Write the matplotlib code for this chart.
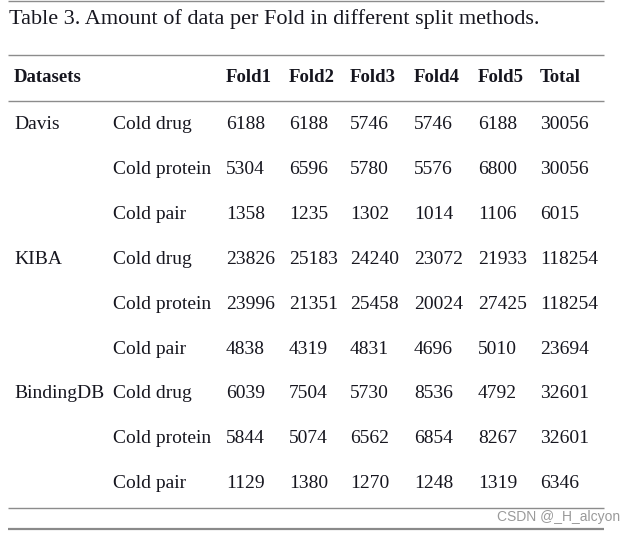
import matplotlib
matplotlib.use("Agg")
import matplotlib.pyplot as plt

# ── Table content ─────────────────────────────────────────────────────────────
title = "Table 3. Amount of data per Fold in different split methods."
header = ["Datasets", "", "Fold1", "Fold2", "Fold3", "Fold4", "Fold5", "Total"]
datasets = ["Davis", "KIBA", "BindingDB"]
splits = ["Cold drug", "Cold protein", "Cold pair"]

davis = [[6188, 6188, 5746, 5746, 6188, 30056],
         [5304, 6596, 5780, 5576, 6800, 30056],
         [1358, 1235, 1302, 1014, 1106, 6015]]
kiba = [[23826, 25183, 24240, 23072, 21933, 118254],
        [23996, 21351, 25458, 20024, 27425, 118254],
        [4838, 4319, 4831, 4696, 5010, 23694]]
bindingdb = [[6039, 7504, 5730, 8536, 4792, 32601],
             [5844, 5074, 6562, 6854, 8267, 32601],
             [1129, 1380, 1270, 1248, 1319, 6346]]
values = [davis, kiba, bindingdb]

# ── Layout (pixel units, origin top-left) ─────────────────────────────────────
W, H = 635, 533
col_x = [14, 113, 226, 289, 350, 414, 478, 540]
header_y = 78
row0_y = 124.5
row_step = 44.9
FONT = "Liberation Serif"
FS = 14
TXT = "#16161f"

fig = plt.figure(figsize=(W / 100, H / 100), dpi=100)
ax = fig.add_axes([0, 0, 1, 1])
ax.set_xlim(0, W)
ax.set_ylim(H, 0)
ax.axis("off")

ax.text(9, 19.5, title, fontsize=16, family=FONT, color=TXT, va="center", ha="left")

for x, h in zip(col_x, header):
    ax.text(x, header_y, h, fontsize=13.5, family=FONT, fontweight="bold",
            color=TXT, va="center", ha="left")

r = 0
for name, block in zip(datasets, values):
    for i, (split, row) in enumerate(zip(splits, block)):
        y = row0_y + r * row_step
        if i == 0:
            ax.text(col_x[0], y, name, fontsize=FS, family=FONT, color=TXT,
                    va="center", ha="left")
        ax.text(col_x[1], y, split, fontsize=FS, family=FONT, color=TXT,
                va="center", ha="left")
        for x, v in zip(col_x[2:], row):
            ax.text(x, y, str(v), fontsize=FS, family=FONT, color=TXT,
                    va="center", ha="left")
        r += 1

# rules
for y in [0.8, 55, 101, 507.5]:
    ax.plot([8, 604], [y, y], color="#8c8c8c", lw=1.0, solid_capstyle="butt")
ax.plot([8, 604], [529, 529], color="#8a8a8a", lw=1.6, solid_capstyle="butt")

ax.text(620, 517, "CSDN @_H_alcyon", fontsize=10, family="Liberation Sans",
        color="#9a9a9a", va="center", ha="right")

plt.savefig("out.png", dpi=100)
plt.close()
